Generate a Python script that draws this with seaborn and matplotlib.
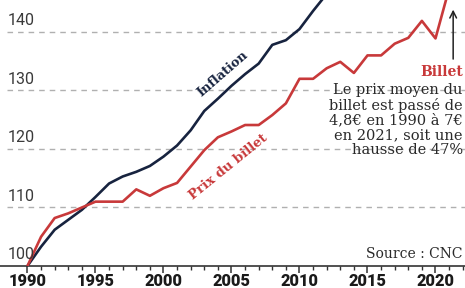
import pandas as pd
import matplotlib
matplotlib.use("Agg")
import matplotlib.pyplot as plt
import seaborn as sns

# Indices base 100 en 1990
years = list(range(1990, 2022))
billet = [100, 105, 108.2, 109, 110, 111, 111, 111, 113.1, 112, 113.3, 114.2,
          117, 119.8, 122, 123, 124.1, 124.1, 125.8, 127.8, 132, 132,
          133.8, 134.9, 133, 136, 136, 138, 139, 141.9, 138.9, 147.4]
inflation_years = list(range(1990, 2013))
inflation = [100, 103.3, 106.2, 107.9, 109.6, 111.8, 114.1, 115.3, 116.1, 117.1,
             118.7, 120.6, 123.2, 126.5, 128.6, 130.8, 132.8, 134.6, 137.8, 138.6,
             140.5, 143.6, 146.5]
y_ticks = [100, 110, 120, 130, 140]
x_major = [1990, 1995, 2000, 2005, 2010, 2015, 2020]

NAVY = "#17233f"
RED = "#c8393a"
GRID = "#b0b0b0"
TXT = "#2a2a2a"

df = pd.concat([
    pd.DataFrame({"annee": inflation_years, "indice": inflation, "serie": "Inflation"}),
    pd.DataFrame({"annee": years, "indice": billet, "serie": "Prix du billet"}),
])

sns.set_theme(style="white")
plt.rcParams["font.family"] = ["DejaVu Serif"]

fig = plt.figure(figsize=(4.65, 2.88), dpi=100)
ax = fig.add_axes([0, 22 / 288, 1, 266 / 288])

for v in y_ticks[1:]:
    ax.axhline(v, color=GRID, lw=1.0, ls=(0, (4.0, 3.6)), zorder=0, xmin=0.015)

sns.lineplot(data=df, x="annee", y="indice", hue="serie", ax=ax,
             palette={"Inflation": NAVY, "Prix du billet": RED},
             linewidth=1.9, legend=False, zorder=3)

ax.set_xlim(1987.98, 2022.17)
ax.set_ylim(100, 145.47)
ax.set_xlabel("")
ax.set_ylabel("")
ax.set_yticks([])
for s in ["left", "right", "top"]:
    ax.spines[s].set_visible(False)
ax.spines["bottom"].set_color("#333333")
ax.spines["bottom"].set_linewidth(1.2)

ax.set_xticks(x_major)
ax.set_xticks(list(range(1990, 2023)), minor=True)
ax.tick_params(axis="x", which="major", length=5, width=1.1, color="#333333",
               direction="out", pad=0.2, bottom=True)
ax.tick_params(axis="x", which="minor", length=3.2, width=1.0, color="#333333",
               direction="out", bottom=True)
for lab in ax.get_xticklabels():
    lab.set_fontfamily("Roboto")
    lab.set_fontweight("heavy")
    lab.set_fontsize(11.8)
    lab.set_color("#1a1a1a")

# y labels sitting above the gridlines
ytrans = matplotlib.transforms.blended_transform_factory(ax.transAxes, ax.transData)
for v in y_ticks:
    ax.text(0.016, v + 0.65, str(v), transform=ytrans, ha="left", va="bottom",
            fontsize=11.5, fontfamily="Roboto", color="#3a3a3a")

# series labels
ax.text(2004.35, 132.8, "Inflation", rotation=41, color=NAVY, fontsize=9.3,
        fontweight="bold", ha="center", va="center")
ax.text(2004.8, 117.0, "Prix du billet", rotation=39, color=RED, fontsize=9.5,
        fontweight="bold", ha="center", va="center")

# annotation
ax.annotate("", xy=(2021.3, 144.3), xytext=(2021.3, 134.9),
            arrowprops=dict(arrowstyle="->", color="#222222", lw=1.1,
                            mutation_scale=12))
ax.text(2022.0, 133.2, "Billet", color=RED, fontsize=10, fontweight="bold",
        ha="right", va="center")
ax.text(2022.0, 131.3,
        "Le prix moyen du\nbillet est passé de\n4,8€ en 1990 à 7€\nen 2021, soit une\nhausse de 47%",
        color=TXT, fontsize=10.5, ha="right", va="top", linespacing=1.08)
ax.text(2022.0, 100.9, "Source : CNC", color=TXT, fontsize=10,
        ha="right", va="bottom")

fig.savefig("out.png", dpi=100)
